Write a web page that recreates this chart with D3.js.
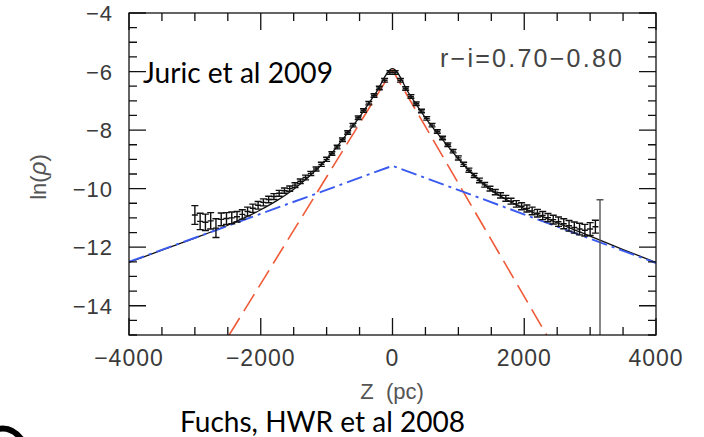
<!DOCTYPE html>
<html><head><meta charset="utf-8">
<script src="https://cdn.jsdelivr.net/npm/d3@7"></script>
<style>body{margin:0;background:#fff}svg{display:block}</style>
</head><body>
<script>
// ---- data ----
const dataZ  = [-3000,-2920,-2840,-2760,-2680,-2600,-2520,-2440,-2360,-2280,-2200,-2120,-2040,-1960,-1880,-1800,-1720,-1640,-1560,-1480,-1400,-1320,-1240,-1160,-1080,-1000,-920,-840,-760,-680,-600,-520,-440,-360,-280,-200,-120,-40,
                40,120,200,280,360,440,520,600,680,760,840,920,1000,1080,1160,1240,1320,1400,1480,1560,1640,1720,1800,1880,1960,2040,2120,2200,2280,2360,2440,2520,2600,2680,2760,2840,2920,3000,3080];
const dataLn = [-10.9,-11.12,-11.15,-11.1,-11.35,-11.05,-11.02,-11.0,-10.96,-10.88,-10.78,-10.67,-10.57,-10.47,-10.37,-10.27,-10.16,-10.07,-10.0,-9.88,-9.75,-9.62,-9.48,-9.33,-9.17,-9.0,-8.8,-8.58,-8.33,-8.08,-7.83,-7.58,-7.33,-7.08,-6.82,-6.56,-6.3,-6.03,
                -6.03,-6.3,-6.58,-6.85,-7.1,-7.35,-7.6,-7.83,-8.05,-8.27,-8.5,-8.72,-8.95,-9.17,-9.37,-9.55,-9.72,-9.87,-10.0,-10.12,-10.23,-10.33,-10.43,-10.52,-10.6,-10.68,-10.76,-10.84,-10.92,-10.99,-11.06,-11.13,-11.2,-11.27,-11.33,-11.38,-11.42,-11.38,-11.3];
const dataErr = [0.32,0.28,0.28,0.28,0.32,0.22,0.2,0.2,0.18,0.16,0.15,0.14,0.13,0.12,0.11,0.1,0.1,0.09,0.09,0.08,0.08,0.08,0.07,0.07,0.07,0.07,0.06,0.06,0.06,0.06,0.06,0.06,0.06,0.06,0.06,0.06,0.06,0.06,
                 0.06,0.06,0.06,0.06,0.06,0.06,0.06,0.06,0.06,0.06,0.06,0.06,0.07,0.07,0.07,0.07,0.08,0.08,0.08,0.09,0.09,0.1,0.1,0.11,0.12,0.12,0.13,0.13,0.14,0.14,0.15,0.16,0.17,0.18,0.19,0.2,0.2,0.22,0.22];
const outlierZ = [3150];
const outlierLn = [-11.0];
const outlierHi = [-10.38];
const outlierLo = [-16];
const modelZ  = [-4000,-3500,-3000,-2500,-2250,-2000,-1750,-1500,-1250,-1000,-750,-500,-250,0,250,500,750,1000,1250,1500,1750,2000,2250,2500,3000,3500,4000];
const modelLn = [-12.52,-12.1,-11.69,-11.25,-11.0,-10.72,-10.4,-10.02,-9.55,-9.0,-8.3,-7.55,-6.72,-5.9,-6.75,-7.58,-8.3,-8.98,-9.58,-10.05,-10.4,-10.68,-10.93,-11.17,-11.62,-12.08,-12.52];
const thinZ  = [-2480,0,2340];
const thinLn = [-15,-5.95,-15];
const thickZ  = [-4000,0,4000];
const thickLn = [-12.5,-9.22,-12.54];
const xTicks = [-4000,-2000,0,2000,4000];
const yTicks = [-14,-12,-10,-8,-6,-4];

const W=704,H=437;
const svg=d3.select("body").append("svg").attr("width",W).attr("height",H);
const x=d3.scaleLinear().domain([-4000,4000]).range([129,656]);
const y=d3.scaleLinear().domain([-15,-4]).range([335,13]);

svg.append("defs").append("clipPath").attr("id","clip").append("rect")
  .attr("x",129).attr("y",13).attr("width",527).attr("height",322);
const plot=svg.append("g").attr("clip-path","url(#clip)");

const line=d3.line().x(d=>x(d[0])).y(d=>y(d[1]));
plot.append("path").datum(d3.zip(modelZ,modelLn))
  .attr("d",d3.line().x(d=>x(d[0])).y(d=>y(d[1])).curve(d3.curveMonotoneX))
  .attr("fill","none").attr("stroke","#111").attr("stroke-width",1.3);
plot.append("path").datum(d3.zip(thinZ,thinLn)).attr("d",line)
  .attr("fill","none").attr("stroke","#f05a38").attr("stroke-width",1.6).attr("stroke-dasharray","20,8");
plot.append("path").datum(d3.zip(thickZ,thickLn)).attr("d",line)
  .attr("fill","none").attr("stroke","#3a5af0").attr("stroke-width",1.9).attr("stroke-dasharray","16,5,3,5");

// error bars
const pts=d3.zip(dataZ,dataLn,dataErr);
const eb=plot.append("g").attr("stroke","#111").attr("stroke-width",1.4).attr("fill","none");
pts.forEach(([z,v,e])=>{
  const cx=x(z), y1=y(v+e), y2=y(v-e);
  eb.append("path").attr("d",`M${cx},${y1}V${y2}M${cx-3.5},${y1}H${cx+3.5}M${cx-3.5},${y2}H${cx+3.5}M${cx-3},${y(v)}H${cx+3}`);
});
outlierZ.forEach((z,i)=>{
  const cx=x(z);
  plot.append("path").attr("d",`M${cx},${y(outlierHi[i])}V${y(outlierLo[i])}M${cx-3.5},${y(outlierHi[i])}H${cx+3.5}`)
    .attr("stroke","#555").attr("stroke-width",1.4).attr("fill","none");
});

// frame and ticks
const ax=svg.append("g").attr("stroke","#111").attr("stroke-width",1.3).attr("fill","none");
ax.append("rect").attr("x",129).attr("y",13).attr("width",527).attr("height",322);
d3.range(-4000,4001,500).forEach(v=>{
  const len = v%2000===0?17:8;
  ax.append("path").attr("d",`M${x(v)},335v${-len}M${x(v)},13v${len}`);
});
d3.range(-15,-3.99,0.5).forEach(v=>{
  const len = Math.abs(v%2)<1e-6?17:8;
  ax.append("path").attr("d",`M129,${y(v)}h${len}M656,${y(v)}h${-len}`);
});

const tickFont="'Liberation Sans', Arial, sans-serif";
svg.append("g").selectAll("text").data(xTicks).join("text")
  .attr("x",d=>x(d)).attr("y",366).attr("text-anchor","middle")
  .attr("font-family",tickFont).attr("font-size",23).attr("letter-spacing",1).attr("fill","#3a3a3a")
  .text(d=>d<0?"\u2212"+Math.abs(d):d);
svg.append("g").selectAll("text").data(yTicks).join("text")
  .attr("x",113).attr("y",d=>y(d)+8).attr("text-anchor","end")
  .attr("font-family",tickFont).attr("font-size",22).attr("letter-spacing",1).attr("fill","#3a3a3a")
  .text(d=>"\u2212"+Math.abs(d));

const yl=svg.append("text").attr("transform","translate(46,177) rotate(-90)").attr("text-anchor","middle")
  .attr("font-family",tickFont).attr("font-size",22).attr("fill","#555");
yl.append("tspan").text("ln(");
yl.append("tspan").attr("font-style","italic").attr("font-size",24).text("ρ");
yl.append("tspan").text(")");
svg.append("text").attr("x",392).attr("y",399).attr("text-anchor","middle")
  .attr("font-family",tickFont).attr("font-size",22).attr("fill","#555").attr("xml:space","preserve").text("Z  (pc)");
svg.append("text").attr("x",440).attr("y",67)
  .attr("font-family",tickFont).attr("font-size",25).attr("fill","#444")
  .attr("textLength",182).attr("lengthAdjust","spacing").text("r\u2212i=0.70\u22120.80");

const capFont="Lato, 'Open Sans', sans-serif";
svg.append("text").attr("x",143).attr("y",83).attr("font-family",capFont).attr("font-size",28).attr("fill","#000")
  .attr("textLength",190).attr("lengthAdjust","spacingAndGlyphs").text("Juric et al 2009");
svg.append("text").attr("x",180).attr("y",432).attr("font-family",capFont).attr("font-size",29).attr("fill","#000")
  .attr("textLength",285).attr("lengthAdjust","spacingAndGlyphs").text("Fuchs, HWR et al 2008");

// dark arc at bottom-left corner
svg.append("path").attr("d","M-2,429 Q12,426 22,440").attr("fill","none").attr("stroke","#000").attr("stroke-width",6);
</script>
</body></html>
